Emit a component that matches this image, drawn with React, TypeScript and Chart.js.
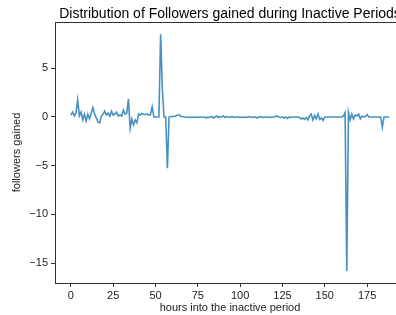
import React, { useEffect, useRef } from "react";
import { Chart, registerables } from "chart.js";

Chart.register(...registerables);

const titleText = "Distribution of Followers gained during Inactive Periods";
const xLabel = "hours into the inactive period";
const yLabel = "followers gained";

const xTicks = [0, 25, 50, 75, 100, 125, 150, 175];
const yTicks = [-15, -10, -5, 0, 5];

const followers = [
  0.2, 0.5, 0.1, 0.4, 1.75, 0.1, 0.5, -0.3, 0.3, -0.4,
  0.3, -0.2, 0.4, 0.95, 0.3, -0.1, -0.5, -0.6, 0.1, 0.3,
  0.6, 0.2, 0.4, 0.1, 0.6, 0.2, 0.3, 0.5, 0.1, 0.2,
  0.1, 0.7, 0.3, 0.4, 1.85, -1.15, -0.2, -0.8, -0.3, -0.6,
  0.3, 0.2, 0.35, 0.25, 0.25, 0.3, 0.2, 0.25, 1.05, 0.0,
  0.0, 0.0, 0.0, 8.5, 3.0, 0.0, 0.0, -5.27, 0.0, 0.05,
  0.05, 0.05, 0.1, 0.2, 0.2, 0.05, 0.05, 0.0, 0.0, -0.05,
  0.0, -0.05, 0.0, -0.05, 0.0, -0.05, 0.0, 0.0, -0.05, 0.0,
  -0.1, 0.0, -0.05, 0.05, -0.1, 0.0, 0.1, -0.05, 0.05, 0.0,
  0.1, -0.05, 0.05, 0.0, -0.05, 0.05, 0.0, -0.05, 0.0, 0.0,
  -0.05, 0.0, -0.05, 0.0, -0.05, 0.05, 0.0, -0.05, 0.0, 0.0,
  -0.1, 0.0, 0.05, -0.05, 0.0, 0.0, -0.05, 0.0, -0.05, 0.0,
  0.0, 0.05, 0.1, 0.0, -0.05, 0.0, -0.1, 0.0, -0.15, 0.0,
  -0.05, 0.0, 0.0, 0.0, 0.0, -0.05, -0.2, -0.1, -0.25, -0.05,
  -0.3, 0.1, 0.3, -0.3, 0.15, -0.2, 0.3, -0.25, -0.1, -0.35,
  0.0, 0.0, 0.0, 0.0, 0.0, 0.0, 0.0, 0.0, 0.0, 0.0,
  0.0, 0.1, 0.45, -15.8, 0.5, -0.3, 0.3, -0.2, 0.2, 0.1,
  0.3, -0.2, 0.1, 0.0, 0.05, 0.25, 0.0, 0.0, 0.0, 0.0,
  0.0, 0.0, 0.0, 0.0, -1.05, 0.0, 0.0, 0.0, 0.0,
];

const hours = followers.map((_, i) => i);

const FONT = '"Liberation Sans", Arial, Helvetica, sans-serif';

const fmt = (v: number) => (v < 0 ? "\u2212" + Math.abs(v) : String(v));

export default function App() {
  const ref = useRef<HTMLCanvasElement | null>(null);

  useEffect(() => {
    if (!ref.current) return;
    const framePlugin = {
      id: "frame",
      afterDraw(chart: any) {
        const { ctx, chartArea } = chart;
        ctx.save();
        ctx.strokeStyle = "#333";
        ctx.lineWidth = 1;
        ctx.beginPath();
        ctx.moveTo(chartArea.left, chartArea.top + 0.5);
        ctx.lineTo(chartArea.right, chartArea.top + 0.5);
        ctx.stroke();
        ctx.fillStyle = "#000";
        ctx.font = "14px " + FONT;
        ctx.textAlign = "center";
        ctx.textBaseline = "alphabetic";
        ctx.fillText(titleText, (chartArea.left + chartArea.right) / 2, 18);
        ctx.restore();
      },
    };
    const chart = new Chart(ref.current, {
      type: "line",
      data: {
        datasets: [
          {
            data: hours.map((h, i) => ({ x: h, y: followers[i] })),
            borderColor: "rgba(31,119,180,0.82)",
            borderWidth: 1.6,
            pointRadius: 0,
            tension: 0,
            fill: false,
          },
        ],
      },
      options: {
        animation: false,
        responsive: false,
        devicePixelRatio: 1,
        layout: { padding: { top: 22, right: 15, left: 0, bottom: 0 } },
        plugins: {
          legend: { display: false },
          tooltip: { enabled: false },
          title: { display: false },
        },
        scales: {
          x: {
            type: "linear",
            min: -9.4,
            max: 197.4,
            afterFit: (s: any) => {
              s.height = 32;
            },
            afterBuildTicks: (s: any) => {
              s.ticks = xTicks.map((v) => ({ value: v }));
            },
            grid: {
              drawOnChartArea: false,
              drawTicks: true,
              tickLength: 4,
              color: "#333",
            },
            border: { display: true, color: "#333", width: 1 },
            ticks: {
              padding: 2,
              color: "#222",
              font: { family: FONT, size: 11 },
              maxRotation: 0,
              autoSkip: false,
              callback: (v: any) => fmt(Number(v)),
            },
            title: {
              display: true,
              text: xLabel,
              color: "#222",
              font: { family: FONT, size: 11 },
              padding: { top: 0, bottom: 0 },
            },
          },
          y: {
            type: "linear",
            min: -17.04,
            max: 9.75,
            afterFit: (s: any) => {
              s.width = 55;
            },
            afterBuildTicks: (s: any) => {
              s.ticks = yTicks.map((v) => ({ value: v }));
            },
            grid: {
              drawOnChartArea: false,
              drawTicks: true,
              tickLength: 4,
              color: "#333",
            },
            border: { display: true, color: "#333", width: 1 },
            ticks: {
              padding: 3,
              color: "#222",
              font: { family: FONT, size: 11 },
              autoSkip: false,
              callback: (v: any) => fmt(Number(v)),
            },
            title: {
              display: true,
              text: yLabel,
              color: "#222",
              font: { family: FONT, size: 11 },
              padding: { top: 10, bottom: 0 },
            },
          },
        },
      },
      plugins: [framePlugin],
    });
    return () => chart.destroy();
  }, []);

  return (
    <div
      style={{
        position: "fixed",
        left: 0,
        top: 0,
        width: 396,
        height: 315,
        overflow: "hidden",
        background: "#fff",
      }}
    >
      <canvas ref={ref} width={420} height={315} style={{ width: 420, height: 315, display: "block" }} />
    </div>
  );
}
